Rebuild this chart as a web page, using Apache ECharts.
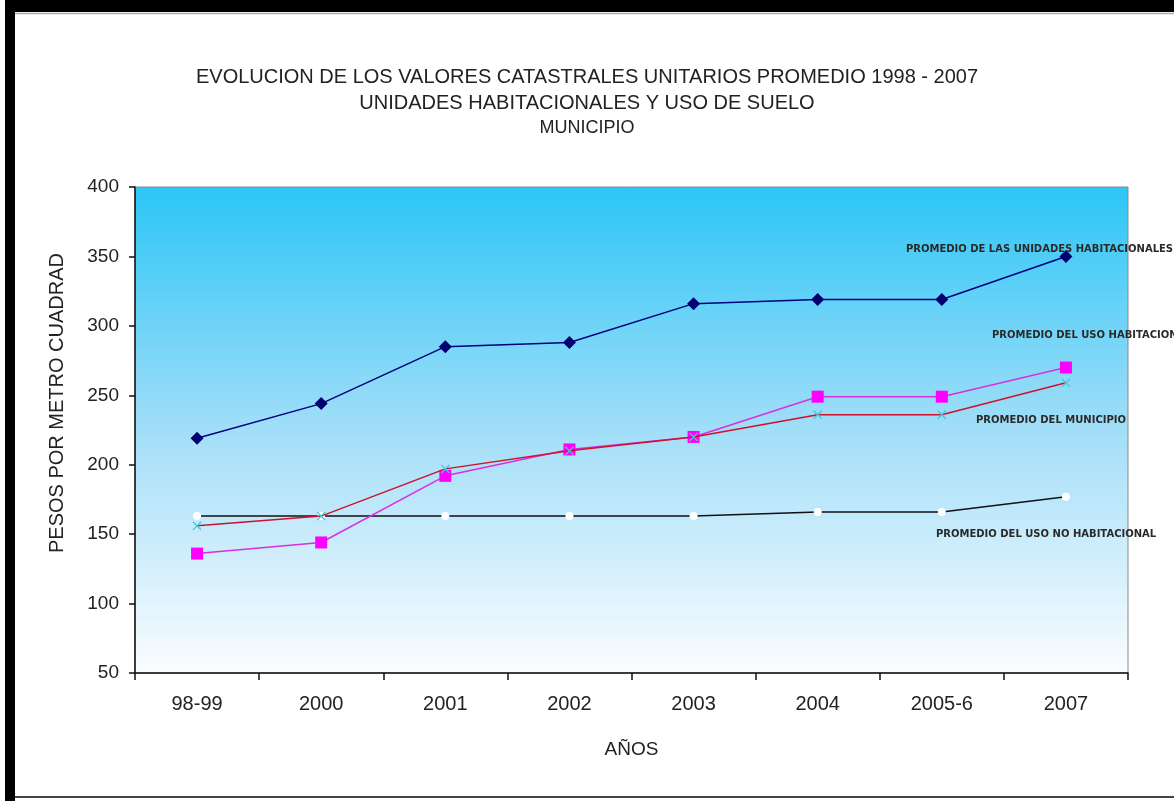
<!DOCTYPE html>
<html>
<head>
<meta charset="utf-8">
<script src="https://cdn.jsdelivr.net/npm/echarts@6/dist/echarts.min.js"></script>
<style>
  html, body { margin: 0; padding: 0; background: #ffffff; }
  #chart { width: 1174px; height: 801px; }
</style>
</head>
<body>
<div id="chart"></div>
<script>
// Categories (years) and average cadastral values per square metre
const years = ['98-99', '2000', '2001', '2002', '2003', '2004', '2005-6', '2007'];
const unidadesHabitacionales = [219, 244, 285, 288, 316, 319, 319, 350];
const usoHabitacional = [136, 144, 192, 211, 220, 249, 249, 270];
const municipio = [156, 163, 197, 210, 220, 236, 236, 259];
const usoNoHabitacional = [163, 163, 163, 163, 163, 166, 166, 177];

const seriesNames = [
  'PROMEDIO DE LAS UNIDADES HABITACIONALES',
  'PROMEDIO DEL USO HABITACIONAL',
  'PROMEDIO DEL MUNICIPIO',
  'PROMEDIO DEL USO NO HABITACIONAL'
];

const titleLines = [
  'EVOLUCION DE LOS VALORES CATASTRALES UNITARIOS PROMEDIO 1998 - 2007',
  'UNIDADES HABITACIONALES Y USO DE SUELO',
  'MUNICIPIO'
];

const FONT = '"Liberation Sans", Arial, sans-serif';
const crossPath = 'path://M0,1L1,0L5,4L9,0L10,1L6,5L10,9L9,10L5,6L1,10L0,9L4,5Z';

// Only the final point carries the series name, placed beside the line end
function withEndLabel(values, text, dx, dy) {
  const last = values.length - 1;
  return values.map((v, i) => i !== last ? v : {
    value: v,
    label: {
      show: true,
      formatter: text,
      position: 'inside',
      align: 'left',
      verticalAlign: 'middle',
      offset: [dx, dy],
      fontFamily: '"DejaVu Sans", sans-serif',
      fontWeight: 'bold',
      fontSize: 10,
      color: '#2a2a2a'
    }
  });
}

const chart = echarts.init(document.getElementById('chart'), null, { renderer: 'canvas' });

chart.setOption({
  backgroundColor: '#ffffff',
  animation: false,
  title: [
    { text: titleLines[0], left: 'center', top: 62, textStyle: { fontFamily: FONT, fontSize: 20, fontWeight: 'normal', color: '#222' } },
    { text: titleLines[1], left: 'center', top: 88, textStyle: { fontFamily: FONT, fontSize: 20, fontWeight: 'normal', color: '#222' } },
    { text: titleLines[2], left: 'center', top: 114, textStyle: { fontFamily: FONT, fontSize: 18, fontWeight: 'normal', color: '#222' } }
  ],
  graphic: [
    // chart frame: heavy top and left edges, thin bottom edge
    { type: 'rect', shape: { x: 5, y: 0, width: 1169, height: 12 }, style: { fill: '#000' }, z: 10 },
    { type: 'rect', shape: { x: 5, y: 0, width: 10, height: 801 }, style: { fill: '#000' }, z: 10 },
    { type: 'line', shape: { x1: 15, y1: 13.5, x2: 1174, y2: 13.5 }, style: { stroke: '#aaa', lineWidth: 1.5 }, z: 10 },
    { type: 'line', shape: { x1: 15, y1: 797, x2: 1174, y2: 797 }, style: { stroke: '#444', lineWidth: 2 }, z: 10 }
  ],
  grid: {
    left: 135,
    right: 46,
    top: 187,
    bottom: 128,
    show: true,
    borderColor: '#888',
    borderWidth: 1,
    backgroundColor: {
      type: 'linear', x: 0, y: 0, x2: 0, y2: 1,
      colorStops: [
        { offset: 0, color: '#2cc6f6' },
        { offset: 0.5, color: '#a2def8' },
        { offset: 1, color: '#fbfdff' }
      ]
    }
  },
  xAxis: {
    type: 'category',
    data: years,
    boundaryGap: true,
    name: 'AÑOS',
    nameLocation: 'middle',
    nameGap: 67,
    nameTextStyle: { fontFamily: FONT, fontSize: 19, color: '#222' },
    axisLine: { lineStyle: { color: '#111', width: 1.5 } },
    axisTick: { show: true, length: 7, alignWithLabel: false, lineStyle: { color: '#111', width: 1.5 } },
    axisLabel: { fontFamily: FONT, fontSize: 20, color: '#222', margin: 21 },
    splitLine: { show: false }
  },
  yAxis: {
    type: 'value',
    min: 50,
    max: 400,
    interval: 50,
    name: 'PESOS POR METRO CUADRAD',
    nameLocation: 'middle',
    nameGap: 68,
    nameRotate: 90,
    nameTextStyle: { fontFamily: FONT, fontSize: 20, color: '#222', padding: [0, 0, 0, 54] },
    axisLine: { show: true, lineStyle: { color: '#111', width: 1.5 } },
    axisTick: { show: true, length: 6, lineStyle: { color: '#111', width: 1.5 } },
    axisLabel: { fontFamily: FONT, fontSize: 19, color: '#222', margin: 16 },
    splitLine: { show: false }
  },
  series: [
    {
      name: seriesNames[3],
      type: 'line',
      data: withEndLabel(usoNoHabitacional, seriesNames[3], -130, 38),
      symbol: 'circle',
      symbolSize: 8,
      lineStyle: { color: '#111', width: 1.5 },
      itemStyle: { color: '#ffffff' },
      z: 2
    },
    {
      name: seriesNames[1],
      type: 'line',
      data: withEndLabel(usoHabitacional, seriesNames[1], -74, -32),
      symbol: 'rect',
      symbolSize: 12,
      lineStyle: { color: '#d830e0', width: 1.5 },
      itemStyle: { color: '#ff00ff' },
      z: 3
    },
    {
      name: seriesNames[2],
      type: 'line',
      data: withEndLabel(municipio, seriesNames[2], -90, 38),
      symbol: crossPath,
      symbolSize: 9,
      lineStyle: { color: '#d0102c', width: 1.5 },
      itemStyle: { color: '#40c8d8' },
      z: 4
    },
    {
      name: seriesNames[0],
      type: 'line',
      data: withEndLabel(unidadesHabitacionales, seriesNames[0], -160, -7),
      symbol: 'diamond',
      symbolSize: 13,
      lineStyle: { color: '#000080', width: 1.5 },
      itemStyle: { color: '#000070' },
      z: 5
    }
  ]
});
</script>
</body>
</html>
